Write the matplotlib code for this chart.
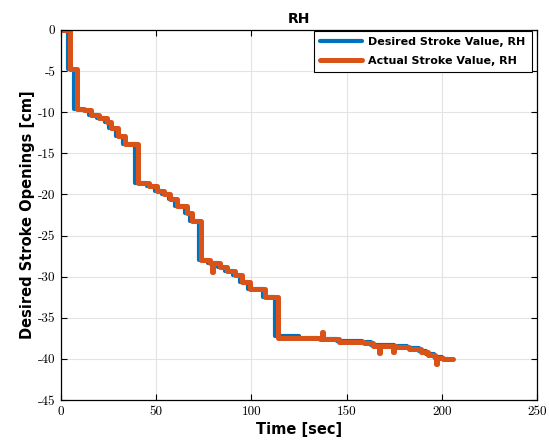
import matplotlib
matplotlib.use("Agg")
import matplotlib.pyplot as plt

plt.rcParams["axes.unicode_minus"] = False

# Desired stroke (step values, held until next time)
desired_t = [0, 3.8, 7.0, 11, 15, 19, 23, 25.5, 29, 32.5, 38.8, 45, 49.5, 53, 56.5,
             60, 65, 68, 72.3, 77.5, 82.5, 86, 90.5, 94, 98.3, 106, 112.2, 125, 135,
             145, 158, 163, 175, 182, 188, 192, 196, 200, 203.5]
desired_v = [0, -4.8, -9.6, -9.8, -10.3, -10.75, -11.2, -11.9, -12.9, -13.9, -18.6,
             -19.0, -19.6, -20.0, -20.6, -21.4, -22.2, -23.2, -28.0, -28.3, -28.8,
             -29.3, -29.8, -30.6, -31.5, -32.5, -37.2, -37.4, -37.6, -37.8, -38.0,
             -38.3, -38.4, -38.7, -39.0, -39.4, -39.8, -40.0, -40.0]

# Actual stroke (lags the demand, with a few spikes)
actual_t = [0, 4.8, 8.3, 12, 16, 20, 24, 26.5, 30, 33.5, 40.3, 46, 50.5, 54, 57.5,
            61, 66, 69, 73.8, 78.5, 79.3, 80.0, 83.5, 87, 91.5, 95, 99.3, 107, 113.8,
            126, 136, 137.1, 137.8, 146, 159, 164, 166.8, 167.4, 174.2, 174.8, 176,
            183, 189, 193, 196.5, 197.0, 197.6, 200.5, 206]
actual_v = [0, -4.8, -9.6, -9.8, -10.3, -10.75, -11.2, -11.9, -12.9, -13.9, -18.6,
            -19.0, -19.6, -20.0, -20.6, -21.4, -22.2, -23.2, -28.0, -28.3, -29.4,
            -28.3, -28.8, -29.3, -29.8, -30.6, -31.5, -32.5, -37.4, -37.5, -37.6,
            -36.7, -37.6, -37.9, -38.1, -38.4, -39.3, -38.4, -39.1, -38.4, -38.6,
            -38.8, -39.1, -39.5, -39.9, -40.6, -39.9, -40.0, -40.0]

fig = plt.figure(figsize=(5.49, 4.46), dpi=100)
ax = fig.add_axes([0.111, 0.103, 0.867, 0.830])

ax.plot(desired_t, desired_v, drawstyle="steps-post", color="#0072BD",
        linewidth=3.0, solid_joinstyle="round", solid_capstyle="round",
        label="Desired Stroke Value, RH")
ax.plot(actual_t, actual_v, drawstyle="steps-post", color="#D95319",
        linewidth=3.6, solid_joinstyle="round", solid_capstyle="round",
        label="Actual Stroke Value, RH")

ax.set_xlim(0, 250)
ax.set_ylim(-45, 0)
ax.set_xticks(range(0, 251, 50))
ax.set_yticks(range(-45, 1, 5))
ax.grid(True, color="#e3e3e3", linewidth=0.8)
ax.set_axisbelow(True)
ax.tick_params(direction="in", top=True, right=True, length=4, width=0.8,
               labelsize=9.5, pad=4)
for lab in ax.get_xticklabels() + ax.get_yticklabels():
    lab.set_fontfamily("cmr10")
for s in ax.spines.values():
    s.set_linewidth(0.9)

ax.set_title("RH", fontsize=10, fontweight="bold", pad=5)
ax.set_xlabel("Time [sec]", fontsize=10.5, fontweight="bold", labelpad=3)
ax.set_ylabel("Desired Stroke Openings [cm]", fontsize=10.5, fontweight="bold",
              labelpad=2)

leg = ax.legend(loc="upper right", bbox_to_anchor=(0.9895, 0.998),
                prop={"weight": "bold", "size": 8},
                handlelength=3.8, fancybox=False, framealpha=1,
                edgecolor="black", borderaxespad=0, labelspacing=0.75,
                handletextpad=0.5, borderpad=0.6)
leg.get_frame().set_linewidth(0.8)

fig.savefig("out.png", dpi=100)
